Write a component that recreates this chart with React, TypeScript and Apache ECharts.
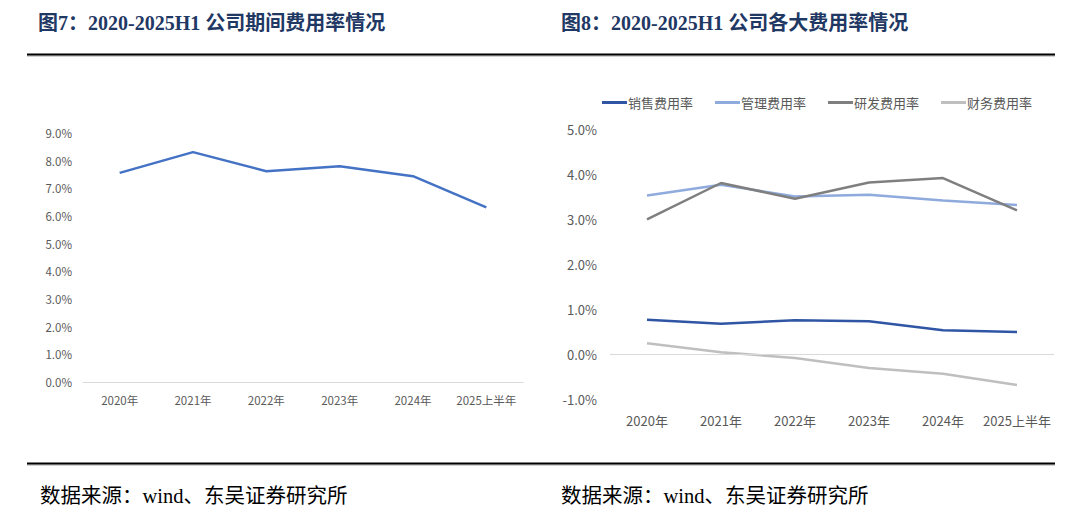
import React, { useEffect, useRef } from "react";
import * as echarts from "echarts";

const categories = ["2020年", "2021年", "2022年", "2023年", "2024年", "2025上半年"];
const periodExpenseRate = [7.56, 8.31, 7.62, 7.8, 7.44, 6.31];

const salesRate = [0.76, 0.67, 0.75, 0.73, 0.53, 0.49];
const adminRate = [3.52, 3.76, 3.5, 3.54, 3.41, 3.31];
const rdRate = [2.99, 3.8, 3.45, 3.81, 3.91, 3.19];
const financeRate = [0.24, 0.04, -0.09, -0.31, -0.44, -0.69];

const seriesNames = ["销售费用率", "管理费用率", "研发费用率", "财务费用率"];
const title1 = "图7：2020-2025H1 公司期间费用率情况";
const title2 = "图8：2020-2025H1 公司各大费用率情况";
const sourceText = "数据来源：wind、东吴证券研究所";

const CJK = "'Microsoft YaHei', 'Noto Sans CJK SC', sans-serif";
const TITLE_FONT = "'Liberation Serif', 'Noto Sans CJK SC', serif";
const LABEL_COLOR = "#595959";

export default function App() {
  const ref = useRef<HTMLDivElement>(null);
  useEffect(() => {
    if (!ref.current) return;
    const chart = echarts.init(ref.current, undefined, { renderer: "svg" });
    const fmt = (v: number) => v.toFixed(1) + "%";
    chart.setOption({
      animation: false,
      backgroundColor: "#ffffff",
      textStyle: { fontFamily: CJK },
      grid: [
        { left: 83, top: 133, width: 440, height: 249, containLabel: false },
        { left: 610, top: 129, width: 444, height: 270, containLabel: false },
      ],
      legend: {
        left: 597,
        top: 91,
        icon: "rect",
        itemWidth: 25,
        itemHeight: 3,
        itemGap: 22,
        textStyle: { color: LABEL_COLOR, fontSize: 13, fontFamily: CJK, padding: [0, 0, 0, -4] },
        data: seriesNames,
      },
      xAxis: [
        {
          type: "category",
          gridIndex: 0,
          data: categories,
          boundaryGap: true,
          axisLine: { show: true, lineStyle: { color: "#D9D9D9", width: 1 } },
          axisTick: { show: false },
          axisLabel: { color: LABEL_COLOR, fontSize: 11.5, margin: 12, interval: 0 },
        },
        {
          type: "category",
          gridIndex: 1,
          data: categories,
          boundaryGap: true,
          axisLine: { show: false, onZero: false },
          axisTick: { show: false },
          axisLabel: { color: LABEL_COLOR, fontSize: 13, margin: 15, interval: 0 },
        },
      ],
      yAxis: [
        {
          type: "value",
          gridIndex: 0,
          min: 0,
          max: 9,
          interval: 1,
          axisLine: { show: false },
          axisTick: { show: false },
          splitLine: { show: false },
          axisLabel: { color: LABEL_COLOR, fontSize: 11.5, margin: 11, formatter: fmt },
        },
        {
          type: "value",
          gridIndex: 1,
          min: -1,
          max: 5,
          interval: 1,
          axisLine: { show: false },
          axisTick: { show: false },
          splitLine: { show: false },
          axisLabel: { color: LABEL_COLOR, fontSize: 13, margin: 13, formatter: fmt },
        },
      ],
      series: [
        {
          name: "期间费用率",
          type: "line",
          xAxisIndex: 0,
          yAxisIndex: 0,
          data: periodExpenseRate,
          symbol: "none",
          lineStyle: { color: "#4472C4", width: 2.5 },
          itemStyle: { color: "#4472C4" },
        },
        {
          name: seriesNames[0],
          type: "line",
          xAxisIndex: 1,
          yAxisIndex: 1,
          data: salesRate,
          symbol: "none",
          lineStyle: { color: "#2F55A4", width: 2.5 },
          itemStyle: { color: "#2F55A4" },
          markLine: {
            silent: true,
            symbol: "none",
            label: { show: false },
            lineStyle: { color: "#D9D9D9", width: 1, type: "solid" },
            data: [{ yAxis: 0 }],
          },
          z: 5,
        },
        {
          name: seriesNames[1],
          type: "line",
          xAxisIndex: 1,
          yAxisIndex: 1,
          data: adminRate,
          symbol: "none",
          lineStyle: { color: "#8FAADC", width: 2.5 },
          itemStyle: { color: "#8FAADC" },
        },
        {
          name: seriesNames[2],
          type: "line",
          xAxisIndex: 1,
          yAxisIndex: 1,
          data: rdRate,
          symbol: "none",
          lineStyle: { color: "#7F7F7F", width: 2.5 },
          itemStyle: { color: "#7F7F7F" },
        },
        {
          name: seriesNames[3],
          type: "line",
          xAxisIndex: 1,
          yAxisIndex: 1,
          data: financeRate,
          symbol: "none",
          lineStyle: { color: "#BFBFBF", width: 2.5 },
          itemStyle: { color: "#BFBFBF" },
        },
      ],
      graphic: [
        {
          type: "text",
          left: 38,
          top: 13,
          style: {
            text: title1,
            fontSize: 20,
            fontWeight: "bold",
            fontFamily: TITLE_FONT,
            fill: "#1F3864",
          },
        },
        {
          type: "text",
          left: 561,
          top: 13,
          style: {
            text: title2,
            fontSize: 20,
            fontWeight: "bold",
            fontFamily: TITLE_FONT,
            fill: "#1F3864",
          },
        },
        {
          type: "line",
          shape: { x1: 27, y1: 56, x2: 1055, y2: 56 },
          style: { stroke: "#A6A6A6", lineWidth: 1 },
        },
        {
          type: "line",
          shape: { x1: 27, y1: 54.5, x2: 1055, y2: 54.5 },
          style: { stroke: "#000000", lineWidth: 2 },
        },
        {
          type: "line",
          shape: { x1: 27, y1: 465, x2: 1055, y2: 465 },
          style: { stroke: "#A6A6A6", lineWidth: 1 },
        },
        {
          type: "line",
          shape: { x1: 27, y1: 463.5, x2: 1055, y2: 463.5 },
          style: { stroke: "#000000", lineWidth: 2 },
        },
        {
          type: "text",
          left: 40,
          top: 486,
          style: { text: sourceText, fontSize: 20.5, fontFamily: TITLE_FONT, fill: "#000000" },
        },
        {
          type: "text",
          left: 561,
          top: 486,
          style: { text: sourceText, fontSize: 20.5, fontFamily: TITLE_FONT, fill: "#000000" },
        },
      ],
    });
    return () => chart.dispose();
  }, []);
  return (
    <div
      ref={ref}
      style={{ position: "absolute", left: 0, top: 0, width: 1080, height: 521 }}
    />
  );
}
